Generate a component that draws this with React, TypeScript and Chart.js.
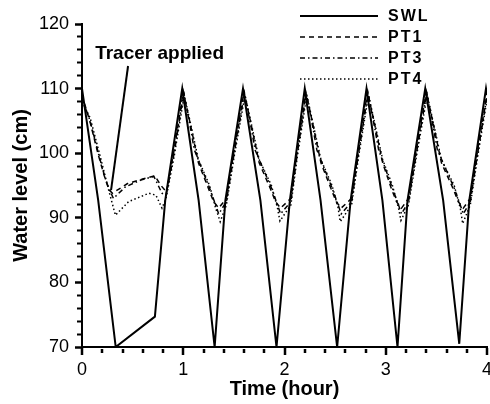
import React, { useEffect, useRef } from "react";
import { Chart, registerables } from "chart.js";

Chart.register(...registerables);

// ---- Data (hours, cm) ----
const swlTime = [0, 0.16, 0.333, 0.72, 0.822, 0.99, 1.152, 1.31, 1.416, 1.59, 1.762, 1.921, 2.053, 2.2, 2.356, 2.52, 2.653, 2.81, 2.967, 3.116, 3.215, 3.39, 3.567, 3.726, 3.825, 3.99, 4.0];
const swlLevel = [110, 92.7, 70, 74.7, 92.7, 110, 92.7, 70, 92.7, 110, 92.7, 70, 92.7, 110, 92.7, 70, 92.7, 110, 92.7, 70, 92.7, 110, 92.7, 70.5, 92.7, 110, 109];

const pt1Time = [0, 0.08, 0.16, 0.22, 0.27, 0.3, 0.45, 0.6, 0.72, 0.78, 0.835, 0.91, 1.0,
  1.07, 1.15, 1.25, 1.3, 1.35, 1.426, 1.503, 1.6,
  1.67, 1.75, 1.861, 1.911, 1.961, 2.063, 2.127, 2.21,
  2.28, 2.36, 2.46, 2.51, 2.56, 2.663, 2.732, 2.82,
  2.89, 2.97, 3.056, 3.106, 3.156, 3.225, 3.303, 3.4,
  3.47, 3.55, 3.666, 3.716, 3.766, 3.835, 3.908, 4.0];
const pt1Level = [109, 104.8, 99.8, 96.5, 94.3, 93.8, 95.3, 96, 96.5, 95, 94, 100.5, 109.5,
  104.5, 98.5, 94.5, 92.5, 91.5, 93, 100.5, 109.5,
  104.5, 98.5, 94.5, 92.5, 91.5, 93, 100.5, 109.5,
  104.5, 98.5, 94.5, 92.5, 91.5, 93, 100.5, 109.5,
  104.5, 98.5, 94.5, 92.5, 91.5, 93, 100.5, 109.5,
  104.5, 98.5, 94.5, 92.5, 91.5, 93, 100.5, 109.2];

const pt3Time = [0, 0.08, 0.17, 0.24, 0.31, 0.43, 0.59, 0.71, 0.79, 0.83, 0.91, 1.005,
  1.07, 1.11, 1.26, 1.32, 1.35, 1.426, 1.503, 1.605,
  1.67, 1.71, 1.871, 1.931, 1.961, 2.063, 2.127, 2.215,
  2.28, 2.32, 2.47, 2.53, 2.56, 2.663, 2.732, 2.825,
  2.89, 2.93, 3.066, 3.126, 3.156, 3.225, 3.303, 3.405,
  3.47, 3.51, 3.676, 3.736, 3.766, 3.835, 3.908, 4.0];
const pt3Level = [108.5, 105, 99.5, 95.5, 93, 94.8, 95.9, 96.4, 93.8, 93.5, 100, 109.3,
  104, 100.5, 94.6, 92, 90.6, 92.5, 100, 109.3,
  104, 100.5, 94.6, 92, 90.6, 92.5, 100, 109.3,
  104, 100.5, 94.6, 92, 90.6, 92.5, 100, 109.3,
  104, 100.5, 94.6, 92, 90.6, 92.5, 100, 109.3,
  104, 100.5, 94.6, 92, 90.6, 92.5, 100, 108.8];

const pt4Time = [0, 0.08, 0.18, 0.26, 0.33, 0.46, 0.66, 0.73, 0.79, 0.83, 0.91, 1.01,
  1.08, 1.15, 1.26, 1.32, 1.365, 1.426, 1.503, 1.61,
  1.68, 1.75, 1.871, 1.931, 1.955, 2.063, 2.127, 2.22,
  2.29, 2.36, 2.47, 2.53, 2.55, 2.663, 2.732, 2.83,
  2.9, 2.97, 3.066, 3.126, 3.15, 3.225, 3.303, 3.41,
  3.48, 3.55, 3.676, 3.736, 3.76, 3.835, 3.908, 4.0];
const pt4Level = [108, 105.5, 99.5, 94.5, 90.4, 92.5, 93.8, 93.5, 91.5, 93, 99.5, 109,
  104, 99, 95, 91.5, 89.4, 92, 99.5, 109,
  104, 99, 95, 91.5, 89.5, 92, 99.5, 109,
  104, 99, 95, 91.5, 89.4, 92, 99.5, 109,
  104, 99, 95, 91.5, 89.6, 92, 99.5, 109,
  104, 99, 95, 91.5, 89.1, 92, 99.5, 108.3];

const seriesNames = ["SWL", "PT1", "PT3", "PT4"];
const xTickValues = [0, 0.2, 0.4, 0.6, 0.8, 1, 1.2, 1.4, 1.6, 1.8, 2, 2.2, 2.4, 2.6, 2.8, 3, 3.2, 3.4, 3.6, 3.8, 4];
const xTickLabels = ["0", "", "", "", "", "1", "", "", "", "", "2", "", "", "", "", "3", "", "", "", "", "4"];
const yTickValues = [70, 72, 74, 76, 78, 80, 82, 84, 86, 88, 90, 92, 94, 96, 98, 100, 102, 104, 106, 108, 110, 112, 114, 116, 118, 120];
const yTickLabels = ["70", "", "", "", "", "80", "", "", "", "", "90", "", "", "", "", "100", "", "", "", "", "110", "", "", "", "", "120"];
const annotationText = "Tracer applied";

const zip = (t: number[], v: number[]) => t.map((x, i) => ({ x, y: v[i] }));

const FONT = '"Liberation Sans", Arial, Helvetica, sans-serif';

const isMajor = (c: any, labels: string[]) => !!(c && labels[c.index]);

const overlayPlugin = {
  id: "overlayMarks",
  afterDraw(chart: any) {
    const ctx = chart.ctx;
    const x = chart.scales.x;
    const y = chart.scales.y;

    // legend
    ctx.save();
    chart.data.datasets.forEach((ds: any, i: number) => {
      const ly = 16 + i * 21;
      ctx.beginPath();
      ctx.strokeStyle = ds.borderColor;
      ctx.lineWidth = ds.borderWidth;
      ctx.setLineDash(ds.borderDash || []);
      ctx.moveTo(300, ly);
      ctx.lineTo(378, ly);
      ctx.stroke();
      ctx.setLineDash([]);
      ctx.font = `bold 16px ${FONT}`;
      ctx.fillStyle = "#000";
      ctx.textBaseline = "middle";
      ctx.textAlign = "left";
      (ctx as any).letterSpacing = "2px";
      ctx.fillText(ds.label, 388, ly + 1);
      (ctx as any).letterSpacing = "0px";
    });
    ctx.restore();

    // annotation
    ctx.save();
    ctx.strokeStyle = "#000";
    ctx.lineWidth = 2;
    ctx.setLineDash([]);
    ctx.beginPath();
    ctx.moveTo(x.getPixelForValue(0.455), y.getPixelForValue(113.5));
    ctx.lineTo(x.getPixelForValue(0.287), y.getPixelForValue(94.3));
    ctx.stroke();
    ctx.font = `bold 19px ${FONT}`;
    ctx.fillStyle = "#000";
    ctx.textAlign = "left";
    ctx.textBaseline = "alphabetic";
    ctx.fillText(annotationText, x.getPixelForValue(0.13), y.getPixelForValue(114.6));
    ctx.restore();
  },
};

export default function App() {
  const canvasRef = useRef<HTMLCanvasElement | null>(null);

  useEffect(() => {
    document.body.style.margin = "0";
    const canvas = canvasRef.current;
    if (!canvas) return;
    const chart = new Chart(canvas, {
      type: "line",
      data: {
        datasets: [
          { label: seriesNames[0], data: zip(swlTime, swlLevel), borderColor: "#000", borderWidth: 2, borderDash: [], pointRadius: 0, tension: 0 },
          { label: seriesNames[1], data: zip(pt1Time, pt1Level), borderColor: "#000", borderWidth: 1.5, borderDash: [5, 4], pointRadius: 0, tension: 0 },
          { label: seriesNames[2], data: zip(pt3Time, pt3Level), borderColor: "#000", borderWidth: 1.5, borderDash: [5, 3, 1.5, 3], pointRadius: 0, tension: 0 },
          { label: seriesNames[3], data: zip(pt4Time, pt4Level), borderColor: "#000", borderWidth: 1.5, borderDash: [1.5, 2.5], pointRadius: 0, tension: 0 },
        ],
      },
      options: {
        animation: false,
        responsive: false,
        devicePixelRatio: 1,
        layout: { padding: { top: 24, right: 3, left: 0, bottom: 0 } },
        plugins: { legend: { display: false }, tooltip: { enabled: false } },
        scales: {
          x: {
            type: "linear",
            min: 0,
            max: 4,
            afterBuildTicks(scale: any) {
              scale.ticks = xTickValues.map((v) => ({ value: v }));
            },
            ticks: {
              color: "#000",
              font: { family: FONT, size: 18 },
              padding: 4,
              maxRotation: 0,
              minRotation: 0,
              autoSkip: false,
              callback: (_v: number, i: number) => xTickLabels[i],
            },
            grid: {
              drawOnChartArea: false,
              drawTicks: true,
              tickLength: 8,
              lineWidth: 2,
              color: "#000",
              tickColor: "#000",
              tickWidth: 2.5,
              tickBorderDash: (c: any) => (isMajor(c, xTickLabels) ? [] : [0, 1, 4, 50]),
            },
            border: { display: true, color: "#000", width: 2 },
            title: { display: true, text: "Time (hour)", color: "#000", font: { family: FONT, size: 20, weight: "bold" }, padding: { top: 0, bottom: 3 } },
            afterFit(scale: any) {
              scale.height = 57;
              scale.paddingLeft = 0;
              scale.paddingRight = 0;
            },
          },
          y: {
            type: "linear",
            min: 70,
            max: 120,
            afterBuildTicks(scale: any) {
              scale.ticks = yTickValues.map((v) => ({ value: v }));
            },
            ticks: {
              color: "#000",
              font: { family: FONT, size: 18 },
              padding: 6,
              autoSkip: false,
              callback: (_v: number, i: number) => yTickLabels[i],
            },
            grid: {
              drawOnChartArea: false,
              drawTicks: true,
              tickLength: 7,
              color: "#000",
              tickColor: "#000",
              tickWidth: (c: any) => (isMajor(c, yTickLabels) ? 2.5 : 2),
              tickBorderDash: (c: any) => (isMajor(c, yTickLabels) ? [] : [0, 2, 10, 50]),
            },
            border: { display: true, color: "#000", width: 2 },
            title: { display: true, text: "Water level (cm)", color: "#000", font: { family: FONT, size: 20, weight: "bold" }, padding: { top: 9, bottom: 0 } },
            afterFit(scale: any) {
              scale.width = 82;
              scale.paddingTop = 0;
              scale.paddingBottom = 0;
            },
          },
        },
      },
      plugins: [overlayPlugin],
    } as any);
    return () => chart.destroy();
  }, []);

  return (
    <div style={{ width: 490, height: 404, position: "relative", overflow: "hidden", background: "#fff" }}>
      <canvas ref={canvasRef} width={490} height={404} style={{ display: "block" }} />
    </div>
  );
}
